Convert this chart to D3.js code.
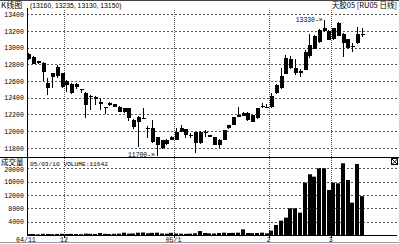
<!DOCTYPE html>
<html>
<head>
<meta charset="utf-8">
<script src="https://cdn.jsdelivr.net/npm/d3@7"></script>
<style>
  body { margin: 0; background: #fff; }
  svg { display: block; }
</style>
</head>
<body>
<svg id="chart"></svg>
<script>
// daily candles, 04/11 .. 05/03/10
const open  = [12920,12885,12835,12815,12575,12655,12665,12695,
  12605,12570,12525,12500,12455,12420,12415,12345,12285,12310,12320,12295,12275,12275,12140,12115,12160,12040,12035,11925,11795,11850,11900,
  11895,11995,12025,11955,11985,11855,11985,11955,11925,11835,11895,12035,12075,12175,12220,12220,12115,12155,12300,12295,
  12285,12460,12515,12685,12860,12755,12725,12735,12900,12985,13070,13195,13200,
  13100,13140,13170,13100,13010,13055,13160];
const high  = [12940,12895,12840,12830,12635,12700,12795,12700,
  12610,12580,12575,12505,12475,12430,12420,12395,12290,12345,12330,12300,12280,12280,12150,12180,12275,12065,12140,11935,11900,11910,11940,
  12040,12075,12030,11975,11990,12000,12015,11960,11930,11905,12020,12080,12170,12285,12230,12225,12200,12280,12335,12320,
  12460,12560,12755,12915,12900,12860,12745,12970,13170,13150,13220,13330,13210,
  13235,13310,13180,13110,13055,13250,13235];
const low   = [12855,12800,12810,12600,12435,12515,12640,12515,
  12475,12440,12510,12455,12155,12255,12315,12255,12210,12300,12285,12225,12220,12120,12030,11815,12155,11915,11860,11700,11790,11840,11890,
  11890,11990,11915,11915,11735,11850,11935,11930,11835,11795,11890,12030,12070,12170,12180,12125,12110,12150,12275,12280,
  12280,12440,12510,12680,12750,12675,12650,12730,12880,12980,13060,13190,13090,
  13095,13135,12890,12990,12950,13050,13130];
const close = [12860,12810,12815,12705,12515,12695,12765,12535,
  12555,12460,12570,12500,12315,12420,12390,12325,12285,12340,12290,12235,12230,12155,12045,12175,12160,12040,11875,11840,11895,11900,11935,
  11995,12035,11955,11955,11860,11995,11980,11935,11835,11900,12015,12075,12165,12200,12185,12130,12195,12275,12305,12290,
  12425,12555,12660,12875,12755,12700,12700,12945,13035,13140,13210,13235,13090,
  13230,13300,13055,12995,13015,13170,13150];
const volume = [250,300,200,350,300,250,300,350,
  300,350,300,250,400,350,300,600,350,300,350,400,700,400,450,700,750,500,650,700,450,400,650,
  450,400,350,400,500,1200,600,500,450,600,700,600,650,700,1700,600,550,600,700,500,
  1300,3000,4300,5200,8000,8000,6700,15700,18200,17500,20000,20000,13500,
  15700,15500,21500,16500,9700,21300,11642];

// first candle index of each month and its label
const monthIndex = [0, 8, 31, 51, 64];
const monthLabel = ["04/11", "12", "05/1", "2", "3"];

const priceTicks = [11800, 12000, 12200, 12400, 12600, 12800, 13000, 13200, 13400];
const volumeTicks = [4000, 8000, 12000, 16000, 20000];

const width = 399, height = 244;
const left = 27, right = 397;
const priceTop = 10, priceBottom = 157, volBottom = 235;

const svg = d3.select("#chart").attr("width", width).attr("height", height);

const n = open.length;
const x = d3.scaleLinear().domain([0, n - 1]).range([28.3, 361.7]);
const step = x(1) - x(0);
const y = d3.scaleLinear().domain([11700, 13400]).range([156.25, 14.3]);
const yv = d3.scaleLinear().domain([0, 20000]).range([volBottom, 168.3]);

const mono = "'Liberation Mono', 'DejaVu Sans Mono', monospace";
const cjk = "'Noto Sans CJK SC', sans-serif";

// grid
const grid = svg.append("g").attr("stroke", "#555").attr("stroke-width", 1).attr("shape-rendering", "crispEdges");
grid.selectAll(".hp").data(priceTicks).enter().append("line")
  .attr("x1", left).attr("x2", right)
  .attr("y1", d => Math.round(y(d)) + 0.5).attr("y2", d => Math.round(y(d)) + 0.5)
  .attr("stroke-dasharray", "2,2");
grid.selectAll(".hv").data(volumeTicks).enter().append("line")
  .attr("x1", left).attr("x2", right)
  .attr("y1", d => Math.round(yv(d)) + 0.5).attr("y2", d => Math.round(yv(d)) + 0.5)
  .attr("stroke-dasharray", "2,2");
grid.selectAll(".vm").data(monthIndex.slice(1)).enter().append("line")
  .attr("x1", d => Math.round(x(d) - step / 2) + 0.5).attr("x2", d => Math.round(x(d) - step / 2) + 0.5)
  .attr("y1", priceTop).attr("y2", volBottom)
  .attr("stroke-dasharray", "1,1");

// axis labels
const axisP = svg.append("g").attr("transform", `translate(${left - 2},0)`)
  .call(d3.axisLeft(y).tickValues(priceTicks).tickSize(0).tickFormat(d3.format("d")));
const axisV = svg.append("g").attr("transform", `translate(${left - 2},0)`)
  .call(d3.axisLeft(yv).tickValues(volumeTicks).tickSize(0).tickFormat(d3.format("d")));
[axisP, axisV].forEach(a => {
  a.select(".domain").remove();
  a.selectAll("text").attr("font-family", mono).attr("font-size", 6.6).attr("fill", "#000").attr("x", -1);
});
axisV.selectAll("text").filter(d => d == 20000).attr("dy", "0.55em");

// volume bars
svg.append("g").selectAll("rect").data(volume).enter().append("rect")
  .attr("x", (d, i) => Math.round(x(i) - 1.8))
  .attr("width", 4)
  .attr("y", d => yv(d))
  .attr("height", d => volBottom - yv(d))
  .attr("fill", "#000");

// candles
const candle = svg.append("g").attr("shape-rendering", "crispEdges");
d3.range(n).forEach(i => {
  const cx = Math.round(x(i)) + 0.5;
  candle.append("line").attr("x1", cx).attr("x2", cx)
    .attr("y1", y(high[i])).attr("y2", y(low[i])).attr("stroke", "#000");
  const top = y(Math.max(open[i], close[i])), bot = y(Math.min(open[i], close[i]));
  candle.append("rect").attr("x", Math.round(x(i)) - 1).attr("width", 4)
    .attr("y", top).attr("height", Math.max(1, bot - top)).attr("fill", "#000");
});

// frame
const frame = svg.append("g").attr("stroke", "#000").attr("shape-rendering", "crispEdges");
frame.append("line").attr("x1", 0).attr("x2", width).attr("y1", 0.5).attr("y2", 0.5).attr("stroke", "#444");
frame.append("line").attr("x1", 0).attr("x2", width).attr("y1", priceBottom + 0.5).attr("y2", priceBottom + 0.5).attr("stroke-width", 1.2);
frame.append("line").attr("x1", left + 0.5).attr("x2", left + 0.5).attr("y1", priceTop - 2).attr("y2", volBottom + 1);
frame.append("line").attr("x1", left).attr("x2", right).attr("y1", volBottom + 0.5).attr("y2", volBottom + 0.5);
frame.append("line").attr("x1", 0).attr("x2", width).attr("y1", height - 1.5).attr("y2", height - 1.5).attr("stroke", "#999");

// month ticks and labels
const xm = i => x(i) - step / 2;
svg.append("g").selectAll("line").data(monthIndex.slice(1)).enter().append("line")
  .attr("x1", d => Math.round(xm(d)) + 0.5).attr("x2", d => Math.round(xm(d)) + 0.5)
  .attr("y1", volBottom).attr("y2", volBottom + 3).attr("stroke", "#000");
svg.append("g").selectAll("text").data(monthIndex).enter().append("text")
  .attr("x", d => xm(d)).attr("y", 242)
  .attr("text-anchor", "middle")
  .attr("font-family", mono).attr("font-size", 6.6)
  .text((d, i) => monthLabel[i]);

// extreme price markers
const hiIdx = d3.maxIndex(high), loIdx = d3.minIndex(low);
svg.append("text").attr("x", x(hiIdx) - 1).attr("y", y(high[hiIdx]) + 2)
  .attr("text-anchor", "end").attr("font-family", mono).attr("font-size", 6.4)
  .text(high[hiIdx] + "-\u00bb");
svg.append("text").attr("x", x(loIdx) - 2).attr("y", y(low[loIdx]) + 1)
  .attr("text-anchor", "end").attr("font-family", mono).attr("font-size", 6.4)
  .text(low[loIdx] + "-\u00bb");

// headers
const last = n - 1;
svg.append("text").attr("x", 1).attr("y", 8).attr("font-family", cjk).attr("font-size", 8)
  .text("K线图");
svg.append("text").attr("x", 30).attr("y", 8).attr("font-family", "'Liberation Sans', sans-serif").attr("font-size", 6.8)
  .text(`(${open[last]}, ${high[last]}, ${low[last]}, ${close[last]})`);
svg.append("text").attr("x", 397).attr("y", 8).attr("text-anchor", "end").attr("font-family", cjk).attr("font-size", 7.5)
  .text("天胶05 [RU05 日线]");
svg.append("text").attr("x", 1).attr("y", 164.5).attr("font-family", cjk).attr("font-size", 7.5)
  .text("成交量");
svg.append("text").attr("x", 30).attr("y", 166).attr("font-family", mono).attr("font-size", 6.2)
  .text(`05/03/10 VOLUME:${volume[last]}`);

// close box
const cb = svg.append("g").attr("transform", "translate(391,158)").attr("stroke", "#000").attr("fill", "none").attr("shape-rendering", "crispEdges");
cb.append("rect").attr("x", 0.5).attr("y", 0.5).attr("width", 6).attr("height", 6);
cb.append("path").attr("d", "M1,1L6.5,6.5M6.5,1L1,6.5").attr("shape-rendering", "auto");
</script>
</body>
</html>
